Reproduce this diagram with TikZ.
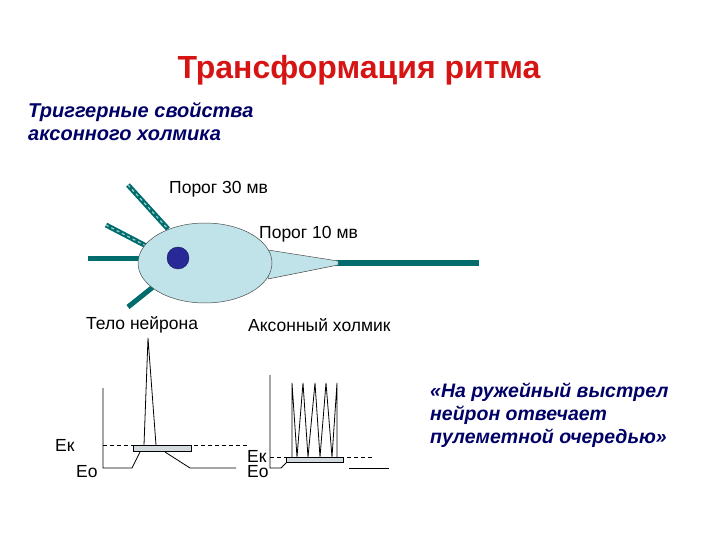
\documentclass[tikz,border=0pt]{standalone}
\usepackage{fontspec}
\setmainfont{Liberation Sans}
\usetikzlibrary{shapes.geometric}
\begin{document}
\begin{tikzpicture}[x=1pt,y=-1pt,
 lbl/.style={font=\fontsize{17.5}{20}\selectfont,inner sep=0,anchor=west},
 navy/.style={font=\fontsize{20}{23}\selectfont\bfseries\itshape,text=blue!40!black,align=left,inner sep=0,anchor=north west},
 dend/.style={line width=5pt,draw=teal!85!black},
 dendin/.style={line width=1.2pt,draw=teal!40!white,dashed},
 trace/.style={line width=0.8pt},
 dash2/.style={line width=0.8pt,dash pattern=on 4pt off 3pt},
 bar/.style={fill=cyan!15!gray!35,draw=black,line width=0.6pt}]
\useasboundingbox (0,0) rectangle (720,540);
\definecolor{cellfill}{RGB}{191,227,232}
\definecolor{nuc}{RGB}{40,40,150}
\definecolor{tred}{RGB}{215,20,20}
\node[font=\fontsize{32}{36}\selectfont\bfseries,text=tred] (title) at (359,70) {Трансформация ритма};
\node[navy] (sub) at (28,102) {Триггерные свойства\\аксонного холмика};
% dendrites
\coordinate (d1a) at (88,258); \coordinate (d1b) at (142,258);
\coordinate (d2a) at (106,225); \coordinate (d2b) at (152,249);
\coordinate (d3a) at (128,185); \coordinate (d3b) at (168,229);
\coordinate (d4a) at (128,307); \coordinate (d4b) at (153,287);
\draw[dend] (d1a) -- (d1b); \draw[dend] (d2a) -- (d2b);
\draw[dend] (d3a) -- (d3b); \draw[dend] (d4a) -- (d4b);
\draw[dendin] (d2a) -- (d2b); \draw[dendin] (d3a) -- (d3b);
\coordinate (ax1) at (336,263); \coordinate (ax2) at (479,263);
\draw[line width=6pt,draw=teal!85!black] (ax1) -- (ax2);
\draw[fill=cellfill,draw=black!70,line width=0.5pt] (268,250) -- (338,261) -- (338,265) -- (268,279) -- cycle;
\node[ellipse,fill=cellfill,draw=black!70,line width=0.5pt,minimum width=134pt,minimum height=80pt,inner sep=0] (body) at (205,263) {};
\node[circle,fill=nuc,draw=nuc!60!black,minimum size=22pt,inner sep=0] (nucleus) at (178,258) {};
\node[lbl] (p30) at (169,189) {Порог 30 мв};
\node[lbl] (p10) at (259,234) {Порог 10 мв};
\node[lbl] (tn) at (86,325) {Тело нейрона};
\node[lbl] (ah) at (248,325) {Аксонный холмик};
% left graph
\draw[trace] (103,388) -- (103,468) -- (132,468) -- (140,452);
\draw[dash2] (103,445) -- (247,445);
\draw[trace] (144,445) -- (148,338) -- (156,445);
\draw[trace] (165,452) -- (190,468) -- (236,468);
\draw[bar] (133,445) rectangle (191,451);
\node[lbl] (ek1) at (55,445) {Ек};
\node[lbl] (eo1) at (76,472) {Ео};
% right graph
\draw[trace] (270,375) -- (270,468) -- (281,468) -- (287,462);
\draw[dash2] (270,457) -- (373,457);
\draw[trace] (292,457) -- (292,383) -- (297,457) -- (303,383) -- (308,457) -- (315,383) -- (320,457) -- (326,383) -- (332,457) -- (337,383) -- (337,457);
\draw[bar] (286,457) rectangle (343,462);
\draw[trace] (349,468) -- (389,468);
\node[lbl] (ek2) at (247,456) {Ек};
\node[lbl] (eo2) at (247,472) {Ео};
\node[navy,font=\fontsize{19.5}{23}\selectfont\bfseries\itshape] (quote) at (430,383) {«На ружейный выстрел\\нейрон отвечает\\пулеметной очередью»};
\end{tikzpicture}
\end{document}
